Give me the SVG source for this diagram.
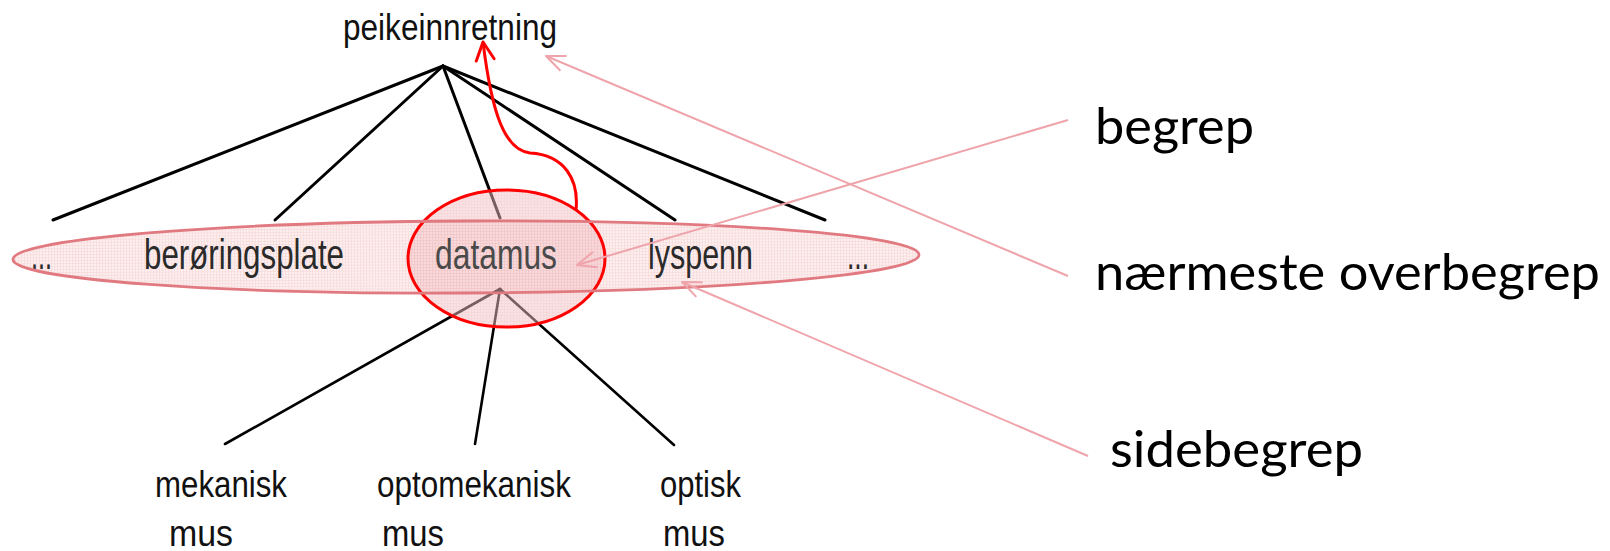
<svg xmlns="http://www.w3.org/2000/svg" xmlns:xlink="http://www.w3.org/1999/xlink" width="1610" height="551" viewBox="0 0 1610 551">
<style>
.tree{stroke:#000;stroke-width:3;fill:none;stroke-linecap:round}
.sub{stroke:#000;stroke-width:2.6;fill:none;stroke-linecap:round}
.t{font-family:"Liberation Sans",Arial,sans-serif;font-size:36px;fill:#111}
.e{font-family:"Liberation Sans",Arial,sans-serif;font-size:42px;fill:#2a2a2a}
.r{font-family:Lato,"Open Sans",sans-serif;font-size:50px;fill:#000}
.pink{stroke:#eea4aa;stroke-width:2;fill:none}
.setline{fill:none;stroke:#e07a80;stroke-width:2.8}
</style>
<defs>
<pattern id="g1" width="3" height="3" patternUnits="userSpaceOnUse">
<rect width="3" height="3" fill="#fdf0f0"/>
<path d="M0,0.5H3M0.5,0V3" stroke="#f6dbdb" stroke-width="0.8"/>
</pattern>
<pattern id="g2" width="3" height="3" patternUnits="userSpaceOnUse">
<rect width="3" height="3" fill="#f4c6c9"/>
<path d="M0,0.5H3M0.5,0V3" stroke="#eeb0b5" stroke-width="0.8"/>
</pattern>
<marker id="pa" viewBox="0 0 22 20" refX="21" refY="10" markerWidth="22" markerHeight="20" markerUnits="userSpaceOnUse" orient="auto">
<path d="M2,2 L21,10 L2,18" fill="none" stroke="#eea4aa" stroke-width="2" stroke-linejoin="round"/>
</marker>
<marker id="ra" viewBox="0 0 22 22" refX="20" refY="11" markerWidth="22" markerHeight="22" markerUnits="userSpaceOnUse" orient="auto">
<path d="M2,2 L20,11 L2,20" fill="none" stroke="#ff0000" stroke-width="3" stroke-linejoin="round" stroke-linecap="round"/>
</marker>
<ellipse id="setEll" cx="466" cy="257" rx="453" ry="36" transform="rotate(-0.3 466 257)"/>
</defs>

<g id="set-highlight">
<use xlink:href="#setEll" fill="url(#g1)" stroke="none"/>
</g>

<g id="connectors">
<line class="tree" x1="443" y1="66" x2="53" y2="220"/>
<line class="tree" x1="443" y1="66" x2="275" y2="220"/>
<line class="tree" x1="443" y1="66" x2="500" y2="218"/>
<line class="tree" x1="443" y1="66" x2="675" y2="220"/>
<line class="tree" x1="443" y1="66" x2="825" y2="220"/>
<line class="sub" x1="500" y1="289" x2="225" y2="444"/>
<line class="sub" x1="500" y1="289" x2="475" y2="444"/>
<line class="sub" x1="500" y1="289" x2="674" y2="445"/>
</g>

<g id="node-peikeinnretning"><text class="t" x="343" y="40" textLength="214" lengthAdjust="spacingAndGlyphs">peikeinnretning</text></g>
<g id="node-dots-left"><text class="e" x="31" y="269" textLength="21" lengthAdjust="spacingAndGlyphs">...</text></g>
<g id="node-beroringsplate"><text class="e" x="144" y="269" textLength="200" lengthAdjust="spacingAndGlyphs">berøringsplate</text></g>
<g id="node-lyspenn"><text class="e" x="648" y="269" textLength="105" lengthAdjust="spacingAndGlyphs">lyspenn</text></g>
<g id="node-dots-right"><text class="e" x="847" y="269" textLength="22" lengthAdjust="spacingAndGlyphs">...</text></g>
<g id="node-mekanisk-mus">
<text class="t" x="155" y="497" textLength="132" lengthAdjust="spacingAndGlyphs">mekanisk</text>
<text class="t" x="169" y="546" textLength="64" lengthAdjust="spacingAndGlyphs">mus</text>
</g>
<g id="node-optomekanisk-mus">
<text class="t" x="377" y="497" textLength="194" lengthAdjust="spacingAndGlyphs">optomekanisk</text>
<text class="t" x="382" y="546" textLength="62" lengthAdjust="spacingAndGlyphs">mus</text>
</g>
<g id="node-optisk-mus">
<text class="t" x="660" y="497" textLength="81" lengthAdjust="spacingAndGlyphs">optisk</text>
<text class="t" x="663" y="546" textLength="62" lengthAdjust="spacingAndGlyphs">mus</text>
</g>

<g id="concept-highlight">
<ellipse cx="506.5" cy="258.5" rx="98.5" ry="68.5" fill="url(#g2)" fill-opacity="0.5" stroke="#ff0000" stroke-width="3"/>
<use xlink:href="#setEll" class="setline"/>
</g>

<g id="node-datamus"><text class="e" x="435" y="269" textLength="122" lengthAdjust="spacingAndGlyphs" style="fill:#4a4a4a">datamus</text></g>

<g id="label-begrep"><text class="r" x="1095" y="144" textLength="159" lengthAdjust="spacingAndGlyphs">begrep</text></g>
<g id="label-naermeste-overbegrep"><text class="r" x="1095" y="290" textLength="505" lengthAdjust="spacingAndGlyphs">nærmeste overbegrep</text></g>
<g id="label-sidebegrep"><text class="r" x="1110" y="467" textLength="253" lengthAdjust="spacingAndGlyphs">sidebegrep</text></g>

<g id="annotation-connectors">
<path d="M576,210 C579,180 565,155 530,153 C505,150 492,115 483,42" fill="none" stroke="#ff0000" stroke-width="3" marker-end="url(#ra)"/>
<line class="pink" x1="1068" y1="120" x2="577" y2="265" marker-end="url(#pa)"/>
<line class="pink" x1="1068" y1="276" x2="546" y2="56" marker-end="url(#pa)"/>
<line class="pink" x1="1088" y1="456" x2="682" y2="282" marker-end="url(#pa)"/>
</g>
</svg>
